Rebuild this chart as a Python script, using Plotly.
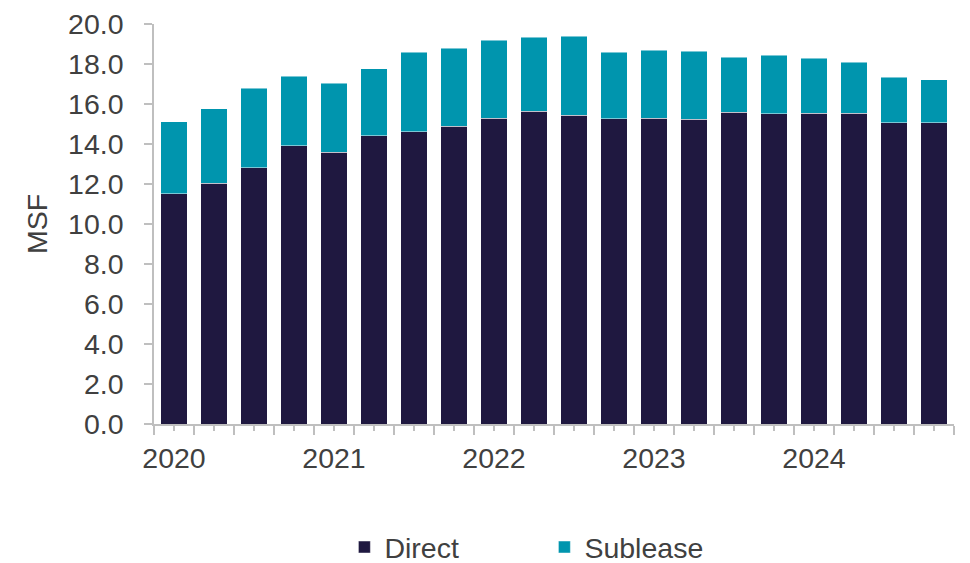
import plotly.graph_objects as go

quarters = [f"{y} Q{q}" for y in range(2020, 2025) for q in range(1, 5)]
direct = [11.52, 12.03, 12.82, 13.92, 13.60, 14.42, 14.62, 14.88, 15.28, 15.65,
          15.45, 15.27, 15.28, 15.25, 15.60, 15.52, 15.55, 15.55, 15.07, 15.07]
total = [15.12, 15.77, 16.80, 17.38, 17.05, 17.77, 18.60, 18.80, 19.19, 19.33,
         19.40, 18.58, 18.68, 18.63, 18.35, 18.45, 18.30, 18.08, 17.33, 17.22]
sublease = [round(t - d, 2) for t, d in zip(total, direct)]
year_labels = ["2020", "2021", "2022", "2023", "2024"]
y_ticks = [0, 2, 4, 6, 8, 10, 12, 14, 16, 18, 20]

xs = list(range(len(quarters)))
font_family = "Liberation Sans, Arial, sans-serif"
text_color = "#404040"
axis_color = "#BFBFBF"
fs = 28.5

fig = go.Figure()
fig.add_trace(go.Bar(x=xs, y=direct, name="Direct", marker=dict(color="#1F1840", line=dict(color="rgba(255,255,255,0.6)", width=0.8)),
                     customdata=quarters, hovertemplate="%{customdata}<br>Direct: %{y:.1f}<extra></extra>"))
fig.add_trace(go.Bar(x=xs, y=sublease, name="Sublease", marker=dict(color="#0095AE", line=dict(color="rgba(255,255,255,0.6)", width=0.8)),
                     customdata=quarters, hovertemplate="%{customdata}<br>Sublease: %{y:.1f}<extra></extra>"))

tickvals = xs
ticktext = [year_labels[i // 4] if i % 4 == 0 else "" for i in xs]

fig.update_layout(
    barmode="stack",
    bargap=0.33,
    width=962, height=555,
    margin=dict(l=146, r=16, t=16, b=139, autoexpand=False),
    paper_bgcolor="white", plot_bgcolor="white",
    font=dict(family=font_family, size=fs, color=text_color),
    showlegend=True,
    legend=dict(orientation="h", x=0.238, xanchor="left", y=-0.245, yanchor="top",
                font=dict(size=fs, color=text_color), traceorder="normal",
                entrywidth=155, entrywidthmode="pixels", itemwidth=30),
    xaxis=dict(
        range=[-0.5, 19.5], tickmode="array", tickvals=tickvals, ticktext=ticktext,
        ticks="outside", ticklen=5, tickwidth=1.5, tickcolor=axis_color,
        showline=True, linecolor=axis_color, linewidth=1.5, showgrid=False, zeroline=False,
        tickfont=dict(size=fs, color=text_color), automargin=False, ticklabelstandoff=3,
        ticklabeloverflow="allow",
        minor=dict(tickmode="linear", tick0=-0.5, dtick=1, ticks="outside", ticklen=9,
                   tickwidth=1.5, tickcolor=axis_color, showgrid=False),
    ),
    yaxis=dict(
        range=[0, 20], tickmode="array", tickvals=y_ticks,
        ticktext=[f"{v:.1f}" for v in y_ticks],
        ticks="outside", ticklen=8, tickwidth=1.5, tickcolor=axis_color,
        showline=True, linecolor=axis_color, linewidth=1.5, showgrid=False, zeroline=False,
        tickfont=dict(size=fs, color=text_color), automargin=False, ticklabelstandoff=15,
        ticklabeloverflow="allow",
        title=dict(text="MSF", font=dict(size=fs, color=text_color), standoff=12),
    ),
)

fig.write_html("out.html")
